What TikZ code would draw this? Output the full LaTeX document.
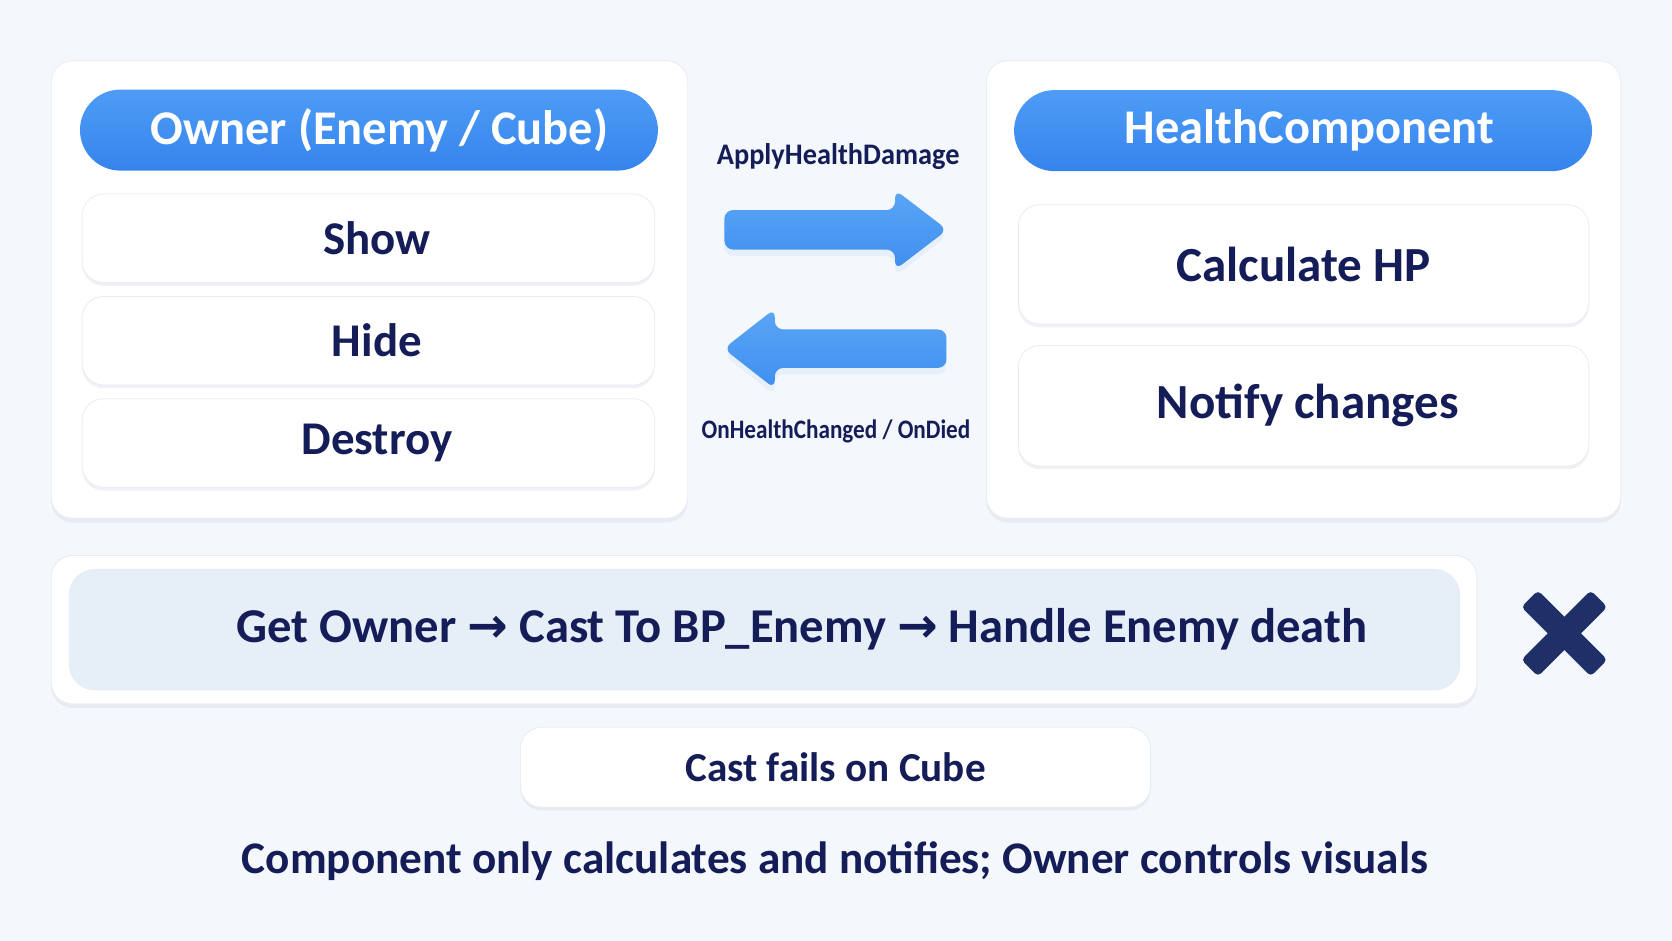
\documentclass[tikz,border=0pt]{standalone}
\usepackage{fontspec}
\setmainfont{Carlito}
\newfontfamily\symfont{DejaVu Sans}
\newfontfamily\applyfont{Carlito}[FakeStretch=0.95]
\newfontfamily\eventfont{Carlito}[FakeStretch=0.87]
\usetikzlibrary{calc,shadows}

\definecolor{bgcol}{HTML}{F4F7FB}
\definecolor{navy}{HTML}{141D57}
\definecolor{cardline}{HTML}{E8EDF4}
\definecolor{headtop}{HTML}{4E9CF6}
\definecolor{headbot}{HTML}{3584EC}
\definecolor{flowfill}{HTML}{E6EEF8}
\definecolor{crosscol}{HTML}{1E3067}
\definecolor{arrowlight}{HTML}{5AA5F6}
\definecolor{arrowdark}{HTML}{3F8FF0}

\tikzset{
  panel/.style={draw=cardline, fill=white, rounded corners=10pt,
    drop shadow={shadow xshift=0pt, shadow yshift=-2pt, opacity=0.05, fill=navy}},
  header/.style={top color=headtop, bottom color=headbot, draw=none,
    rounded corners=19pt, text=white, font=\bfseries\fontsize{22.7pt}{26pt}\selectfont,
    minimum width=271pt, minimum height=38pt, inner sep=0pt},
  item/.style={draw=cardline, fill=white, rounded corners=10pt, text=navy,
    font=\bfseries\fontsize{22pt}{26pt}\selectfont, inner sep=0pt,
    drop shadow={shadow xshift=0pt, shadow yshift=-1.5pt, opacity=0.06, fill=navy}},
  blockarrow/.style={top color=arrowlight, bottom color=arrowdark, rounded corners=4pt,
    drop shadow={shadow xshift=0pt, shadow yshift=-3pt, opacity=0.07, fill=arrowdark}},
  crossbar/.style={fill=crosscol, rounded corners=2pt, inner sep=0pt,
    minimum width=46pt, minimum height=11pt},
}

\begin{document}
\begin{tikzpicture}[x=0.5pt,y=-0.5pt]

    % --- Background ---
    \path[use as bounding box, fill=bgcol] (0,0) rectangle (1568,882);

    % --- Owner side ---
    \node[panel, minimum width=298.5pt, minimum height=214.5pt] (ownerpanel) at (346.5,271.5) {};
    \node[header] (ownerhead) at (346,122) {\hspace{10pt}Owner (Enemy / Cube)};
    \node[item, minimum width=268.5pt, minimum height=41.5pt] (show) at (345.5,223.5) {\hspace{8pt}Show};
    \node[item, minimum width=268.5pt, minimum height=41.5pt] (hide) at (345.5,319.5) {\hspace{8pt}Hide};
    \node[item, minimum width=268.5pt, minimum height=41.5pt] (destroy) at (345.5,415.5) {\hspace{8pt}Destroy};

    % --- Health component side ---
    \node[panel, minimum width=297.5pt, minimum height=214.5pt] (healthpanel) at (1222.5,271.5) {};
    \node[header] (healthhead) at (1222,122.5) {\hspace{6pt}HealthComponent};
    \node[item, font=\bfseries\fontsize{23pt}{27pt}\selectfont,
      minimum width=267.5pt, minimum height=56pt] (calc) at (1222.5,248) {Calculate HP};
    \node[item, font=\bfseries\fontsize{23pt}{27pt}\selectfont,
      minimum width=267.5pt, minimum height=56.5pt] (notify) at (1222.5,380.5) {\hspace{4pt}Notify changes};

    % --- Messages between the two ---
    % tails sit a little away from the panels
    \coordinate (applyrow) at (0,215.5);
    \coordinate (eventrow) at (0,327);
    \coordinate (applytail) at ($(ownerpanel.east |- applyrow)+(34,0)$);
    \coordinate (eventtail) at ($(healthpanel.west |- eventrow)+(-37,0)$);

    \shade[blockarrow] (applytail) -- ++(0,-18.5) -- ++(160,0) -- ++(0,-19)
      -- ++(49,37.5) -- ++(-49,37.5) -- ++(0,-19) -- ++(-160,0) -- cycle;
    \shade[blockarrow] (eventtail) -- ++(0,-18) -- ++(-161,0) -- ++(0,-19.5)
      -- ++(-48,37.5) -- ++(48,37.5) -- ++(0,-19.5) -- ++(161,0) -- cycle;

    \node[text=navy, font=\applyfont\bfseries\fontsize{14pt}{16pt}\selectfont, inner sep=0pt]
      (applylabel) at (786,147) {ApplyHealthDamage};
    \node[text=navy, font=\eventfont\bfseries\fontsize{12.5pt}{15pt}\selectfont, inner sep=0pt]
      (eventlabel) at (784,405) {OnHealthChanged / OnDied};

    % --- Wrong approach ---
    \node[panel, minimum width=668.5pt, minimum height=69.5pt] (castpanel) at (716.5,590.5) {};
    \node[fill=flowfill, draw=cardline, rounded corners=12pt, minimum width=652pt,
      minimum height=56.5pt] (castflow) at (717,590.5) {};
    \node[text=navy, font=\bfseries\fontsize{22.8pt}{26pt}\selectfont, inner sep=0pt]
      (casttext) at (752,590) {Get Owner {\symfont →} Cast To BP\_Enemy {\symfont →} Handle Enemy death};

    % Cross mark next to it
    \node[crossbar, rotate=45] (crossa) at (1467,594) {};
    \node[crossbar, rotate=-45] (crossb) at (1467,594) {};

    % --- Result ---
    \node[item, minimum width=295.5pt, minimum height=37.5pt,
      font=\bfseries\fontsize{19.3pt}{22pt}\selectfont] (castfail) at (783.5,719.5) {Cast fails on Cube};
    \node[text=navy, font=\bfseries\fontsize{21.2pt}{25pt}\selectfont, inner sep=0pt]
      (summary) at (783,808) {Component only calculates and notifies; Owner controls visuals};

\end{tikzpicture}
\end{document}
